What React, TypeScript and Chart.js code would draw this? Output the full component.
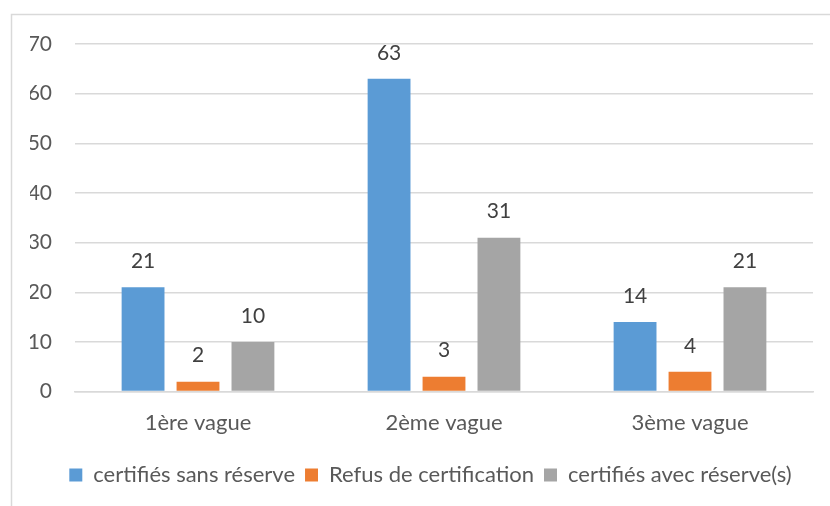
import React, { useEffect, useRef } from "react";
import { Chart, registerables } from "chart.js";

Chart.register(...registerables);

const categories = ["1ère vague", "2ème vague", "3ème vague"];
const seriesNames = ["certifiés sans réserve", "Refus de certification", "certifiés avec réserve(s)"];
const sansReserve = [21, 63, 14];
const refus = [2, 3, 4];
const avecReserve = [10, 31, 21];
const seriesColors = ["#5b9bd5", "#ed7d31", "#a5a5a5"];
const yTicks = [0, 10, 20, 30, 40, 50, 60, 70];

const FONT = "Lato, 'Open Sans', sans-serif";
const FS = 21;
const FS_TEXT = 22;

const framePlugin = {
  id: "frame",
  beforeDraw(chart: any) {
    const ctx = chart.ctx;
    ctx.save();
    ctx.fillStyle = "#ffffff";
    ctx.fillRect(0, 0, chart.width, chart.height);
    ctx.strokeStyle = "#d9d9d9";
    ctx.lineWidth = 1.5;
    ctx.beginPath();
    ctx.moveTo(11.5, chart.height);
    ctx.lineTo(11.5, 14.5);
    ctx.lineTo(chart.width, 14.5);
    ctx.stroke();
    ctx.restore();
  },
};

const legendShiftPlugin = {
  id: "legendShift",
  afterLayout(chart: any) {
    const lg = chart.legend;
    if (lg) {
      lg.left += 9;
      lg.right += 9;
    }
  },
};

const labelPlugin = {
  id: "valueLabels",
  afterDatasetsDraw(chart: any) {
    const ctx = chart.ctx;
    ctx.save();
    ctx.font = `${FS}px ${FONT}`;
    ctx.fillStyle = "#404040";
    ctx.textAlign = "center";
    ctx.textBaseline = "middle";
    chart.data.datasets.forEach((ds: any, i: number) => {
      const meta = chart.getDatasetMeta(i);
      meta.data.forEach((bar: any, j: number) => {
        ctx.fillText(String(ds.data[j]), bar.x, bar.y - 26);
      });
    });
    ctx.restore();
  },
};

export default function App() {
  const ref = useRef<HTMLCanvasElement | null>(null);
  useEffect(() => {
    document.body.style.margin = "0";
    const canvas = ref.current!;
    const chart = new Chart(canvas, {
      type: "bar",
      data: {
        labels: categories,
        datasets: [sansReserve, refus, avecReserve].map((d, i) => ({
          label: seriesNames[i],
          data: d,
          backgroundColor: seriesColors[i],
          borderWidth: 0,
          categoryPercentage: 0.67,
          barPercentage: 0.78,
        })),
      },
      options: {
        animation: false,
        responsive: false,
        devicePixelRatio: 1,
        layout: { padding: { top: 44, left: 30, right: 17, bottom: 10 } },
        scales: {
          x: {
            grid: { display: false, drawTicks: false },
            border: { display: true, color: "#d9d9d9", width: 1.5 },
            ticks: { color: "#595959", font: { family: FONT, size: FS_TEXT }, padding: 18 },
          },
          y: {
            min: 0,
            max: 70,
            afterBuildTicks: (scale: any) => {
              scale.ticks = yTicks.map((v) => ({ value: v }));
            },
            afterFit: (scale: any) => {
              scale.width = 45;
            },
            grid: { color: "#d9d9d9", lineWidth: 1.5, drawTicks: false },
            border: { display: false },
            ticks: { color: "#595959", font: { family: FONT, size: FS }, padding: 23 },
          },
        },
        plugins: {
          legend: {
            position: "bottom",
            labels: {
              color: "#595959",
              font: { family: FONT, size: FS_TEXT },
              boxWidth: 13,
              boxHeight: 13,
              padding: 10,
            },
          },
          tooltip: { enabled: false },
        },
      },
      plugins: [framePlugin, legendShiftPlugin, labelPlugin],
    } as any);
    return () => chart.destroy();
  }, []);
  return <canvas ref={ref} width={830} height={506} style={{ display: "block" }} />;
}
